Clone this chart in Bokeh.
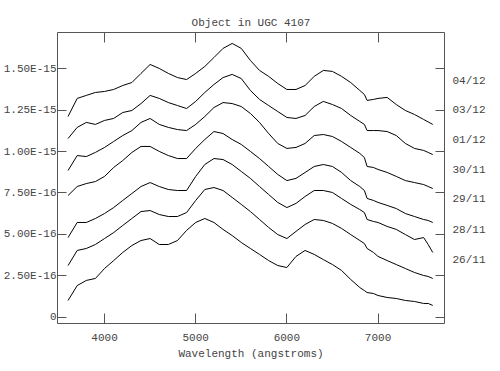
from bokeh.plotting import figure
from bokeh.models import (LinearAxis, FixedTicker, CustomJSTickFormatter, Range1d,
                          CustomLabelingPolicy)
from bokeh.embed import file_html
from bokeh.resources import INLINE

# Wavelength grid (angstroms)
wavelength = [3600, 3700, 3800, 3900, 4000, 4100, 4200, 4300, 4400, 4500, 4600,
              4700, 4800, 4900, 5000, 5100, 5200, 5300, 5400, 5500, 5600, 5700,
              5800, 5900, 6000, 6100, 6200, 6300, 6400, 6500, 6600, 6700, 6800,
              6850, 6880, 6950, 7000, 7100, 7200, 7300, 7400, 7500, 7550, 7600]

# Flux in units of 1e-16 (offset spectra as plotted)
flux_0412 = [12.12, 13.21, 13.39, 13.57, 13.63, 13.75, 13.99, 14.17, 14.72, 15.26, 15.02,
             14.72, 14.47, 14.35, 14.72, 15.14, 15.68, 16.23, 16.53, 16.23, 15.50, 14.90,
             14.54, 14.11, 13.75, 13.75, 13.99, 14.54, 14.90, 14.84, 14.54, 14.17, 13.69,
             13.45, 13.09, 13.15, 13.21, 13.27, 12.84, 12.48, 12.24, 11.94, 11.79, 11.64]
flux_0312 = [10.79, 11.46, 11.76, 11.64, 11.88, 12.00, 12.36, 12.48, 12.90, 13.39, 13.21,
             12.96, 12.78, 12.60, 13.03, 13.57, 14.05, 14.47, 14.66, 14.41, 13.69, 13.15,
             12.78, 12.42, 12.06, 12.00, 12.18, 12.72, 13.03, 12.84, 12.60, 12.18, 11.82,
             11.64, 11.27, 11.27, 11.27, 11.21, 10.97, 10.49, 10.19, 10.07, 9.95, 9.82]
flux_0112 = [8.86, 9.76, 9.70, 9.95, 10.25, 10.61, 10.97, 11.27, 11.76, 12.00, 11.64,
             11.46, 11.33, 11.27, 11.64, 12.12, 12.66, 12.96, 12.90, 12.72, 12.30, 11.76,
             11.09, 10.49, 10.19, 10.25, 10.49, 10.97, 11.03, 10.91, 10.61, 10.25, 9.89,
             9.64, 9.10, 9.04, 8.92, 8.74, 8.50, 8.25, 8.13, 8.01, 7.89, 7.77]
flux_3011 = [7.35, 7.89, 8.07, 8.19, 8.50, 9.04, 9.46, 9.95, 10.31, 10.31, 10.01,
             9.76, 9.58, 9.58, 10.19, 10.73, 11.21, 11.09, 10.73, 10.43, 10.01, 9.58,
             9.10, 8.62, 8.25, 8.38, 8.74, 9.10, 9.22, 9.10, 8.74, 8.25, 7.89,
             7.65, 7.17, 7.05, 6.93, 6.75, 6.56, 6.26, 6.08, 5.90, 5.84, 5.72]
flux_2911 = [4.81, 5.72, 5.72, 5.96, 6.26, 6.62, 7.05, 7.47, 7.89, 8.13, 7.89,
             7.71, 7.65, 7.65, 8.50, 9.22, 9.58, 9.52, 9.22, 8.80, 8.38, 7.89,
             7.41, 6.93, 6.62, 6.87, 7.29, 7.65, 7.65, 7.53, 7.17, 6.81, 6.50,
             6.32, 5.90, 5.78, 5.72, 5.48, 5.30, 4.99, 4.69, 4.81, 4.39, 3.91]
flux_2811 = [3.12, 4.03, 4.15, 4.39, 4.75, 5.11, 5.54, 5.96, 6.38, 6.44, 6.20,
             6.08, 6.08, 6.32, 7.05, 7.71, 7.83, 7.65, 7.23, 6.81, 6.38, 5.90,
             5.42, 4.99, 4.75, 5.18, 5.60, 5.90, 5.84, 5.66, 5.36, 4.99, 4.63,
             4.45, 4.15, 3.91, 3.67, 3.42, 3.18, 2.94, 2.70, 2.52, 2.46, 2.34]
flux_2611 = [1.01, 1.91, 2.22, 2.34, 2.94, 3.42, 3.91, 4.33, 4.63, 4.75, 4.39,
             4.39, 4.63, 5.24, 5.72, 5.96, 5.72, 5.30, 4.93, 4.51, 4.15, 3.79,
             3.42, 3.12, 3.00, 3.67, 4.03, 3.79, 3.48, 3.18, 2.82, 2.28, 1.79,
             1.61, 1.49, 1.43, 1.31, 1.19, 1.13, 1.01, 0.95, 0.83, 0.83, 0.71]

series = [flux_0412, flux_0312, flux_0112, flux_3011, flux_2911, flux_2811, flux_2611]
dates = ["04/12", "03/12", "01/12", "30/11", "29/11", "28/11", "26/11"]
date_label_y = [14.29, 12.49, 10.68, 8.87, 7.11, 5.24, 3.43]

x_ticks = [4000, 5000, 6000, 7000]
y_ticks = [0, 2.5, 5, 7.5, 10, 12.5, 15]

FONT = "Liberation Mono"
TXT = "#444444"
AX = "#555555"

p = figure(width=492, height=363, output_backend="svg", toolbar_location=None,
           x_range=Range1d(3484, 7729), y_range=Range1d(-0.38, 17.19),
           x_axis_location=None, y_axis_location=None,
           min_border_left=57, min_border_right=48, min_border_top=32,
           min_border_bottom=40)
p.grid.visible = False
p.outline_line_color = AX
p.outline_line_width = 1
p.background_fill_color = "white"
p.border_fill_color = "white"

yfmt = CustomJSTickFormatter(code="""
if (tick == 0) { return "0"; }
const e = Math.floor(Math.log10(Math.abs(tick)) + 1e-9);
const m = tick / Math.pow(10, e);
const ex = e - 16;
return m.toFixed(2) + "E" + (ex < 0 ? "-" : "+") + String(Math.abs(ex)).padStart(2, "0");
""")

hide_all = CustomLabelingPolicy(code="return [];")


def style(ax, ticks, labels, size="11px", tick_in=9):
    ax.ticker = FixedTicker(ticks=ticks, minor_ticks=[])
    ax.major_tick_in = tick_in
    ax.major_tick_out = 0
    ax.minor_tick_in = 0
    ax.minor_tick_out = 0
    ax.axis_line_color = None
    ax.major_tick_line_color = AX
    ax.major_tick_line_width = 1
    ax.major_label_text_font = FONT
    ax.major_label_text_color = TXT
    ax.axis_label_text_font = FONT
    ax.axis_label_text_color = TXT
    ax.axis_label_text_font_style = "normal"
    ax.axis_label_text_font_size = "11px"
    if labels:
        ax.major_label_text_font_size = size
    else:
        ax.major_label_text_font_size = "1px"
        ax.major_label_standoff = 0
        ax.major_label_policy = hide_all


left = LinearAxis()
style(left, y_ticks, True, size="11px")
left.formatter = yfmt
left.major_label_standoff = 1
p.add_layout(left, "left")

right = LinearAxis()
style(right, y_ticks, False)
p.add_layout(right, "right")

# outer right axis carrying the date names of the spectra
date_axis = LinearAxis()
style(date_axis, date_label_y, True, size="11px", tick_in=0)
date_axis.major_tick_line_color = None
date_axis.major_label_standoff = 3
date_axis.formatter = CustomJSTickFormatter(args=dict(ys=date_label_y, names=dates), code="""
const i = ys.indexOf(tick);
return i >= 0 ? names[i] : "";
""")
p.add_layout(date_axis, "right")

bottom = LinearAxis(axis_label="Wavelength (angstroms)")
style(bottom, x_ticks, True, size="11px", tick_in=10)
bottom.major_label_standoff = 10
bottom.axis_label_standoff = 4
p.add_layout(bottom, "below")

# top axis: inward ticks only, carries the chart title as its label
top = LinearAxis(axis_label="Object in UGC 4107")
style(top, x_ticks, False, tick_in=10)
top.axis_label_standoff = 0
p.add_layout(top, "above")

for fl in series:
    p.line(wavelength, fl, line_color="black", line_width=1)

open("out.html", "w").write(file_html(p, INLINE))
